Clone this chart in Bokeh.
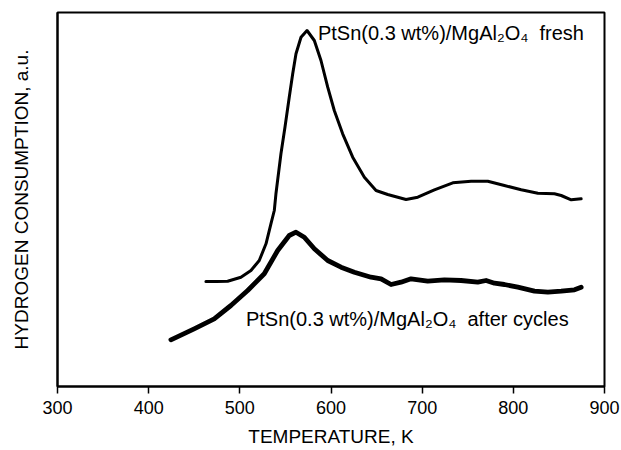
from bokeh.plotting import figure
from bokeh.models import Range1d, FixedTicker, Label
from bokeh.embed import file_html
from bokeh.resources import INLINE

# Fresh catalyst TPR profile (temperature K, hydrogen consumption a.u.)
fresh_T = [462.8, 474.9, 486.6, 501.2, 512.2, 521.3, 528.7, 534.1, 537.8, 539.6,
           545.1, 549.5, 554.2, 558.0, 561.6, 567.1, 573.7, 581.7, 589.0, 596.4,
           603.6, 612.8, 623.8, 636.6, 649.4, 662.2, 682.3, 695.2, 713.4, 733.6,
           753.7, 772.0, 790.2, 808.6, 826.9, 845.1, 852.5, 863.5, 874.4]
fresh_y = [105.0, 105.0, 105.3, 109.3, 116.0, 126.0, 142.7, 162.7, 176.0, 192.7,
           232.7, 259.3, 289.3, 312.7, 332.7, 349.3, 356.0, 346.0, 326.0, 299.3,
           276.0, 252.7, 229.3, 209.3, 196.0, 192.0, 187.0, 189.3, 196.7, 203.7,
           205.3, 205.3, 201.0, 196.7, 193.3, 192.7, 191.0, 186.7, 187.7]

# After cycles TPR profile
cyc_T = [424.4, 449.9, 471.9, 490.2, 508.6, 526.8, 541.5, 554.2, 561.6, 570.7,
         581.7, 596.4, 611.0, 625.6, 643.9, 654.9, 665.9, 676.8, 687.8, 706.1,
         724.4, 742.7, 761.0, 770.1, 779.3, 790.2, 804.9, 823.2, 837.9, 852.5,
         867.1, 874.4]
cyc_y = [46.7, 57.7, 67.7, 81.0, 96.0, 112.7, 136.0, 151.0, 154.3, 149.3,
         137.7, 126.0, 119.3, 114.3, 109.3, 107.7, 102.0, 104.3, 107.7, 105.3,
         106.7, 106.0, 104.3, 106.0, 103.3, 102.0, 99.3, 95.3, 94.3, 95.3,
         96.7, 99.3]

x_ticks = [300, 400, 500, 600, 700, 800, 900]
label_fresh = "PtSn(0.3 wt%)/MgAl\u2082O\u2084\u00a0 fresh"
label_cyc = "PtSn(0.3 wt%)/MgAl\u2082O\u2084\u00a0 after cycles"

FONT = "Liberation Sans"

p = figure(frame_width=547, frame_height=374,
           min_border_left=57, min_border_right=17, min_border_top=12, min_border_bottom=64,
           x_range=Range1d(300, 900), y_range=Range1d(0, 374),
           output_backend="svg", toolbar_location=None,
           background_fill_color="white", border_fill_color="white")

p.line(fresh_T, fresh_y, line_color="black", line_width=3, line_join="round", line_cap="round")
p.line(cyc_T, cyc_y, line_color="black", line_width=4.8, line_join="round", line_cap="round")

p.add_layout(Label(x=585.7, y=354, text=label_fresh, text_font=FONT,
                   text_font_size="20px", text_color="black", text_baseline="alphabetic"))
p.add_layout(Label(x=506.7, y=68, text=label_cyc, text_font=FONT,
                   text_font_size="20px", text_color="black", text_baseline="alphabetic"))

p.xgrid.visible = False
p.ygrid.visible = False
p.outline_line_color = "black"
p.outline_line_width = 2
p.outline_line_alpha = 1

xa = p.xaxis[0]
xa.ticker = FixedTicker(ticks=x_ticks)
xa.minor_tick_line_color = None
xa.major_tick_in = 0
xa.major_tick_out = 7
xa.major_tick_line_width = 1.5
xa.axis_line_width = 2
xa.axis_line_color = "black"
xa.major_tick_line_color = "black"
xa.major_label_text_font = FONT
xa.major_label_text_font_size = "18px"
xa.major_label_text_color = "black"
xa.major_label_standoff = 7
xa.axis_label = "TEMPERATURE, K"
xa.axis_label_text_font = FONT
xa.axis_label_text_font_size = "19px"
xa.axis_label_text_font_style = "normal"
xa.axis_label_text_color = "black"
xa.axis_label_standoff = 9

ya = p.yaxis[0]
ya.ticker = FixedTicker(ticks=[])
ya.minor_tick_line_color = None
ya.major_tick_in = 0
ya.major_tick_out = 0
ya.axis_line_width = 2
ya.axis_line_color = "black"
ya.axis_label = "HYDROGEN CONSUMPTION, a.u."
ya.axis_label_text_font = FONT
ya.axis_label_text_font_size = "19px"
ya.axis_label_text_font_style = "normal"
ya.axis_label_text_color = "black"
ya.axis_label_standoff = 26

open("out.html", "w").write(file_html(p, INLINE))
